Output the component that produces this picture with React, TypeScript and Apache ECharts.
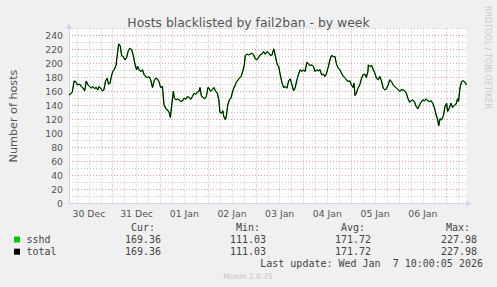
import React, { useEffect, useRef } from "react";
import * as echarts from "echarts";

// hours since 30 Dec 00:00 (local), graph spans 2h .. 202h (Wed Jan 7 10:00)
const hours: number[] = [
  2.0, 3.6, 4.6, 5.4, 6.2, 7.4, 8.2, 9.0, 9.9, 10.7, 11.5, 12.4, 13.2, 14.0, 14.9, 15.7, 16.5, 17.0, 17.9, 18.7,
  19.5, 20.4, 21.2, 21.9, 22.7, 23.2, 24.0, 24.9, 25.7, 26.5, 27.0, 27.8, 28.5, 29.3, 30.2, 31.0, 31.8, 32.7, 33.5, 34.3,
  35.2, 36.0, 36.5, 37.3, 38.2, 39.0, 39.8, 40.7, 41.5, 42.3, 43.1, 44.0, 44.8, 45.6, 46.5, 47.3, 48.1, 49.0, 49.8,
  50.8, 51.6, 52.5, 53.0, 53.8, 54.5, 55.0, 55.8, 56.6, 57.4, 58.3, 59.1, 59.9, 60.8, 61.6, 62.4, 63.3, 64.1, 64.9, 65.8,
  66.6, 67.4, 67.9, 68.6, 69.4, 70.3, 71.1, 71.9, 72.4, 73.2, 74.1, 74.9, 75.7, 76.6, 77.4, 77.9, 78.7, 79.4, 79.9, 80.7,
  81.2, 81.9, 82.7, 83.6, 84.1, 84.9, 85.7, 86.2, 87.1, 87.7, 88.6, 89.4, 90.2, 90.7, 91.5, 92.4, 93.2, 94.0, 94.9, 95.7,
  96.5, 97.4, 98.2, 99.0, 99.9, 100.7,
  101.7, 102.5, 103.4, 104.2, 105.0, 105.9, 106.7, 107.5, 108.3, 109.2, 110.0, 110.8, 111.7, 112.5, 113.3, 114.2, 115.0,
  115.8, 116.7, 117.5, 118.3, 119.2, 120.0, 120.8, 121.7, 122.5, 123.3, 124.2, 125.0, 125.8, 126.6, 127.5, 128.3, 129.1,
  130.0, 130.8, 131.6, 132.5, 133.3, 134.1, 135.0, 135.8, 136.6, 137.5, 138.3, 139.1, 140.0, 140.8, 141.6, 142.4, 143.3,
  144.1, 144.9, 145.4, 145.9, 146.6, 147.4, 148.3, 149.1, 149.9, 150.8, 151.6, 152.4,
  152.6, 153.4, 154.3, 155.1, 155.9, 156.7, 157.6, 158.4, 159.2, 160.1, 160.9, 161.7, 162.6, 163.4, 164.2, 165.1, 165.9,
  166.7, 167.6, 168.4, 169.2, 170.1, 170.9, 171.7, 172.6, 173.4, 174.2, 175.0, 175.9, 176.7, 177.5, 178.4, 179.2, 180.0,
  180.9, 181.7, 182.5, 183.4, 184.2, 185.0, 185.9, 186.7, 187.5, 188.0, 188.7, 189.5, 190.4, 191.2, 192.0, 192.5, 193.3,
  194.2, 195.0, 195.8, 196.7, 197.5, 198.0, 198.7, 199.5, 200.4, 201.2, 202.0,
];

const sshd: number[] = [
  155, 158.6, 175, 174, 169.5, 170.5, 167, 165, 161, 175, 169.5, 167, 165, 167, 164, 166, 162, 167, 165, 161,
  162, 175, 179, 170.5, 172, 180, 188.6, 192, 198, 217, 228, 225, 211, 210, 205, 208.6, 218, 222, 219.5, 212,
  199, 191, 196, 191, 188.6, 191, 184, 181, 180, 181, 176.7, 165.7, 175, 179, 178, 174, 165.7, 167, 141,
  135, 133.8, 129, 122.9, 143.3, 160, 150.5, 148, 149.5, 148, 145.7, 146.7, 150.5, 149, 152.9, 151.4, 149, 152.9, 157.6, 156,
  159, 160, 165.7, 154, 151.4, 149.5, 152.9, 165.7, 164.8, 160, 162.4, 165.7, 161, 157.6, 148, 130.5, 129, 132.4, 124.3, 119.5,
  125.7, 141, 148, 151.4, 157.6, 164.8, 169.5, 173.3, 176.7, 179, 181.4, 188.6, 198, 211.4, 213.3, 212.4, 213.3, 214.8, 212.4, 206.7,
  205.2, 208.6, 212.4, 213.3, 217, 213.3,
  217, 214.8, 211.4, 212.4, 221, 210, 199, 195.7, 183.8, 171.9, 165.7, 167, 164.8, 175.2, 178, 169.5, 161,
  165.7, 176.7, 184.8, 191, 188.6, 191, 188.6, 201.9, 199, 197.1, 198, 195.7, 188.6, 191, 189.5, 191, 183.8,
  184.8, 181.4, 186.2, 195.7, 205.2, 211.4, 210, 210, 199, 193.3, 191, 186.2, 181.4, 180, 176.7, 174.3, 175.2,
  169.5, 165.7, 171.9, 154.3, 157.6, 164.8, 169.5, 178, 183.8, 184.8, 180, 188.6,
  198, 195.7, 197.1, 191, 186.2, 179, 176.7, 181.4, 175.2, 164.8, 162.4, 163.8, 169.5, 176.7, 174.3, 169.5, 167.1,
  164.8, 162.4, 160, 162.4, 162.4, 161, 157.6, 149.5, 144.8, 146.7, 148.1, 144.8, 138.6, 135.2, 141, 144.8, 148.1,
  146.7, 149.5, 146.7, 145.7, 146.7, 143.3, 136.2, 126.7, 119.5, 111.0, 120.9, 119.5, 125.7, 138.6, 143.3, 131.4, 136.2,
  143.3, 137.1, 140, 141.9, 149.5, 145.7, 164.8, 174.3, 175.2, 173.3, 169.4,
];

const total: number[] = sshd.slice();

const xTickHours: number[] = [12, 36, 60, 84, 108, 132, 156, 180];
const xTickLabels: string[] = ["30 Dec", "31 Dec", "01 Jan", "02 Jan", "03 Jan", "04 Jan", "05 Jan", "06 Jan"];

const legendNames: string[] = ["sshd", "total"];
const legendColors: string[] = ["#00CC00", "#000000"];
const statHeaders: string[] = ["Cur:", "Min:", "Avg:", "Max:"];
const sshdStats: string[] = ["169.36", "111.03", "171.72", "227.98"];
const totalStats: string[] = ["169.36", "111.03", "171.72", "227.98"];

const titleText = "Hosts blacklisted by fail2ban - by week";
const yAxisName = "Number of hosts";
const lastUpdate = "Last update: Wed Jan  7 10:00:05 2026";
const footer = "Munin 2.0.75";
const watermark = "RRDTOOL / TOBI OETIKER";

export default function App() {
  const ref = useRef<HTMLDivElement>(null);

  useEffect(() => {
    if (!ref.current) return;
    const chart = echarts.init(ref.current, null, { renderer: "svg" });

    const minorColor = "#c4c4c4";
    const majorColor = "#eb9a9a";
    const dash = [1, 2];
    const gridLines: any[] = [];
    for (let h = 6; h < 202; h += 6) {
      gridLines.push({ xAxis: h, lineStyle: { color: h % 24 === 0 ? majorColor : minorColor, type: dash, width: 1 } });
    }
    for (let v = 10; v <= 250; v += 10) {
      gridLines.push({ yAxis: v, lineStyle: { color: v % 20 === 0 ? majorColor : minorColor, type: dash, width: 1 } });
    }

    const mono = "'DejaVu Sans Mono', monospace";
    const sans = "'DejaVu Sans', sans-serif";
    const txtColor = "#444";

    const graphics: any[] = [];
    const headerRight = [155, 260, 365, 470];
    const valueRight = [161, 266, 371, 477];
    statHeaders.forEach((s, i) => {
      graphics.push({
        type: "text", x: headerRight[i], y: 227,
        style: { text: s, font: `10px ${mono}`, fill: txtColor, align: "right", verticalAlign: "middle" },
      });
    });
    const rowsY = [239.5, 251.7];
    const statsRows = [sshdStats, totalStats];
    legendNames.forEach((n, r) => {
      graphics.push({
        type: "rect", shape: { x: 14, y: rowsY[r] - 3, width: 6, height: 6 },
        style: { fill: legendColors[r] },
      });
      graphics.push({
        type: "text", x: 26.5, y: rowsY[r],
        style: { text: n, font: `10px ${mono}`, fill: txtColor, align: "left", verticalAlign: "middle" },
      });
      statsRows[r].forEach((s, i) => {
        graphics.push({
          type: "text", x: valueRight[i], y: rowsY[r],
          style: { text: s, font: `10px ${mono}`, fill: txtColor, align: "right", verticalAlign: "middle" },
        });
      });
    });
    graphics.push({
      type: "text", x: 483, y: 263.5,
      style: { text: lastUpdate, font: `10px ${mono}`, fill: txtColor, align: "right", verticalAlign: "middle" },
    });
    graphics.push({
      type: "text", x: 248, y: 276,
      style: { text: footer, font: `7.6px ${sans}`, fill: "#c4c4c4", align: "center", verticalAlign: "middle" },
    });
    graphics.push({
      type: "text", x: 487.5, y: 57.5, rotation: -Math.PI / 2,
      style: { text: watermark, font: `8px ${sans}`, fill: "#c8c8c8", align: "center", verticalAlign: "middle" },
    });

    const option: any = {
      animation: false,
      backgroundColor: "#F0F0F0",
      title: {
        text: titleText,
        left: "center",
        top: 11,
        textStyle: { fontFamily: sans, fontSize: 12.4, fontWeight: "normal", color: "#555" },
      },
      grid: {
        left: 66.5, top: 28.5, width: 400, height: 175,
        show: true, backgroundColor: "#FFFFFF", borderWidth: 0,
      },
      xAxis: {
        type: "value",
        min: 2,
        max: 202,
        axisLine: {
          show: true, onZero: false,
          lineStyle: { color: "#CBD2F4", width: 1 },
          symbol: ["none", "arrow"], symbolSize: [5, 6], symbolOffset: [0, 5],
        },
        axisTick: { show: false },
        splitLine: { show: false },
        axisLabel: {
          customValues: xTickHours,
          formatter: (v: number) => {
            const i = xTickHours.indexOf(v);
            return i >= 0 ? xTickLabels[i] : "";
          },
          fontFamily: sans, fontSize: 9.3, color: "#555", margin: 5,
          showMinLabel: true, showMaxLabel: true,
        },
      },
      yAxis: {
        type: "value",
        min: 0,
        max: 250,
        interval: 20,
        name: yAxisName,
        nameLocation: "middle",
        nameGap: 50,
        nameRotate: 90,
        nameTextStyle: { fontFamily: sans, fontSize: 11.2, color: "#555" },
        axisLine: {
          show: true,
          lineStyle: { color: "#CBD2F4", width: 1 },
          symbol: ["none", "arrow"], symbolSize: [5, 6], symbolOffset: [0, 5],
        },
        axisTick: { show: false },
        splitLine: { show: false },
        axisLabel: {
          formatter: (v: number) => (v <= 240 ? String(v) : ""),
          fontFamily: sans, fontSize: 9.3, color: "#555", margin: 6,
          showMaxLabel: false,
        },
      },
      series: [
        {
          type: "line",
          name: "grid",
          data: [],
          silent: true,
          z: 1,
          markLine: {
            silent: true,
            z: 1,
            symbol: ["none", "none"],
            label: { show: false },
            emphasis: { disabled: true },
            animation: false,
            data: gridLines,
          },
        },
        {
          type: "line",
          name: legendNames[0],
          data: hours.map((h, i) => [h, sshd[i]]),
          showSymbol: false,
          z: 10,
          lineStyle: { color: legendColors[0], width: 1.3 },
          itemStyle: { color: legendColors[0] },
        },
        {
          type: "line",
          name: legendNames[1],
          data: hours.map((h, i) => [h, total[i]]),
          showSymbol: false,
          z: 11,
          lineStyle: { color: legendColors[1], width: 1 },
          itemStyle: { color: legendColors[1] },
        },
      ],
      graphic: graphics,
    };

    chart.setOption(option);
    return () => chart.dispose();
  }, []);

  return (
    <div
      ref={ref}
      style={{ position: "fixed", left: 0, top: 0, width: 497, height: 287 }}
    />
  );
}
